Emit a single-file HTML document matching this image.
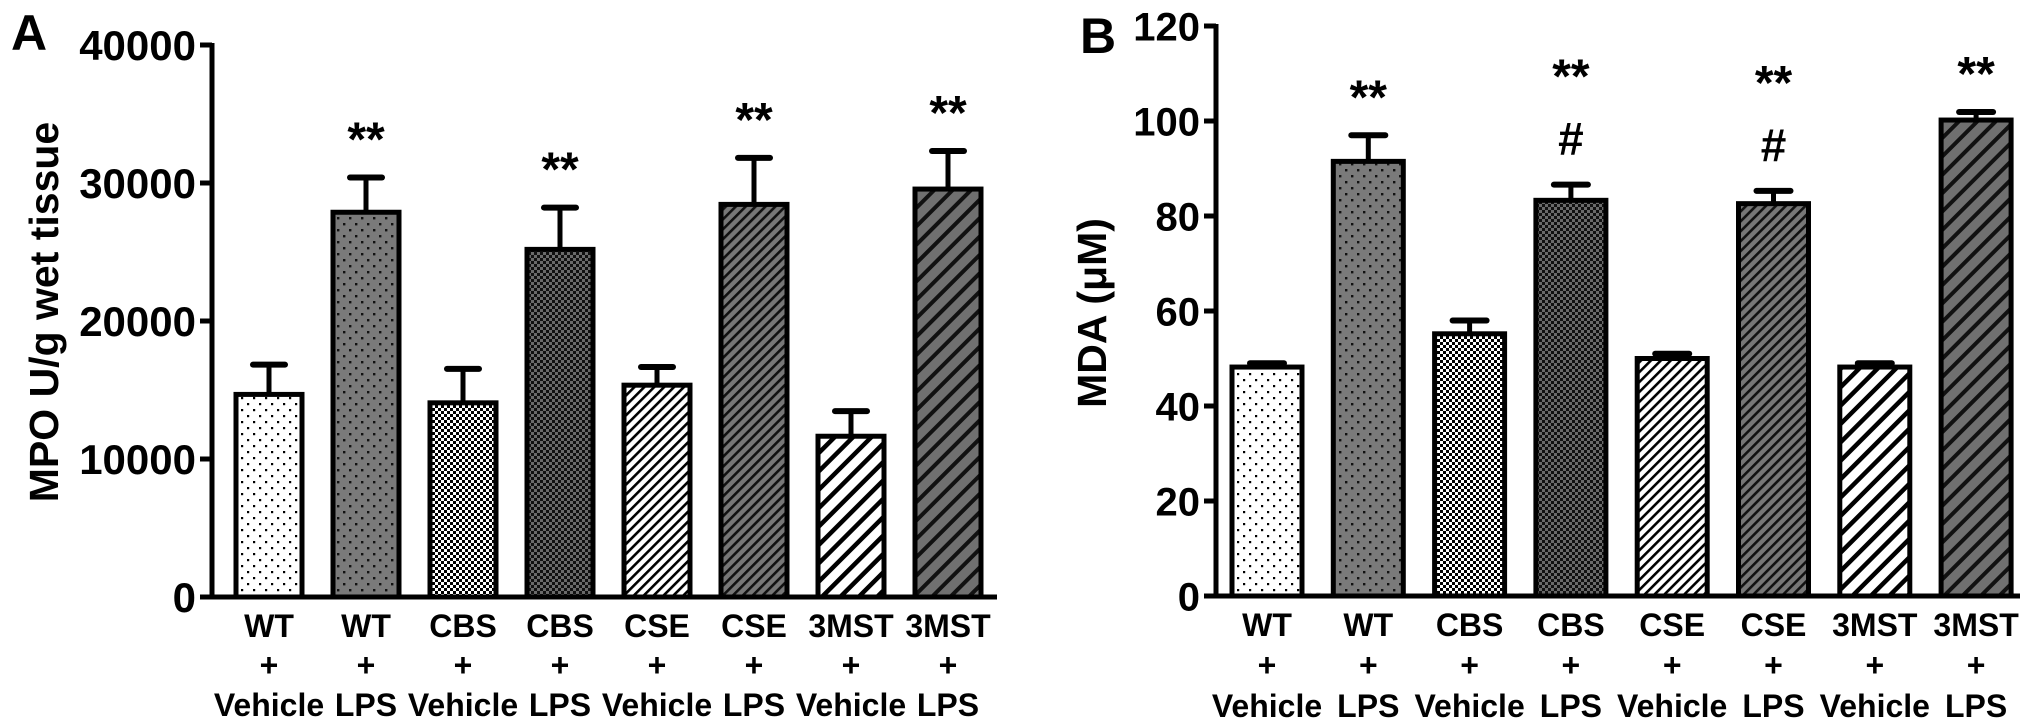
<!DOCTYPE html>
<html><head><meta charset="utf-8"><style>
html,body{margin:0;padding:0;background:#fff;}
svg{display:block;font-family:"Liberation Sans",Arial,sans-serif;font-weight:bold;}
</style></head><body>
<svg id="fig" width="2031" height="718" viewBox="0 0 2031 718">
<defs>
<pattern id="p0" width="12" height="12" patternUnits="userSpaceOnUse"><rect width="12" height="12" fill="#fff"/><rect x="1" y="1" width="2.2" height="2.2" fill="#000"/><rect x="7" y="7" width="2.2" height="2.2" fill="#000"/></pattern>
<pattern id="p1" width="12" height="12" patternUnits="userSpaceOnUse"><rect width="12" height="12" fill="#7a7a7a"/><rect x="1" y="1" width="2.4" height="2.4" fill="#111"/><rect x="7" y="7" width="2.4" height="2.4" fill="#111"/></pattern>
<pattern id="p2" width="6" height="6" patternUnits="userSpaceOnUse"><rect width="6" height="6" fill="#fff"/><rect width="3" height="3" fill="#000"/><rect x="3" y="3" width="3" height="3" fill="#000"/></pattern>
<pattern id="p3" width="6" height="6" patternUnits="userSpaceOnUse"><rect width="6" height="6" fill="#6a6a6a"/><rect width="3" height="3" fill="#111"/><rect x="3" y="3" width="3" height="3" fill="#111"/></pattern>
<pattern id="p4" width="7" height="7" patternUnits="userSpaceOnUse" patternTransform="rotate(45)"><rect width="7" height="7" fill="#fff"/><rect width="2.6" height="7" fill="#000"/></pattern>
<pattern id="p5" width="7" height="7" patternUnits="userSpaceOnUse" patternTransform="rotate(45)"><rect width="7" height="7" fill="#777"/><rect width="2.6" height="7" fill="#111"/></pattern>
<pattern id="p6" width="13" height="13" patternUnits="userSpaceOnUse" patternTransform="rotate(45)"><rect width="13" height="13" fill="#fff"/><rect width="4.5" height="13" fill="#000"/></pattern>
<pattern id="p7" width="13" height="13" patternUnits="userSpaceOnUse" patternTransform="rotate(45)"><rect width="13" height="13" fill="#707070"/><rect width="4" height="13" fill="#111"/></pattern>
</defs>
<g id="gA"></g>
<g id="gB"></g>
</svg>
<script>
const groups = ["WT","WT","CBS","CBS","CSE","CSE","3MST","3MST"];
const treatments = ["Vehicle","LPS","Vehicle","LPS","Vehicle","LPS","Vehicle","LPS"];
const mpoValues = [14680,27880,14070,25190,15350,28450,11650,29560];
const mpoErrors = [2160,2520,2460,3030,1320,3370,1820,2760];
const mpoMarks = ["","**","","**","","**","","**"];
const mpoTicks = [0,10000,20000,30000,40000];
const mdaValues = [48.2,91.5,55.2,83.3,50.0,82.6,48.2,100.2];
const mdaErrors = [0.8,5.5,2.8,3.3,1.0,2.7,0.8,1.7];
const mdaMarks = ["","**","","**","","**","","**"];
const mdaHash = ["","","","#","","#","",""];
const mdaTicks = [0,20,40,60,80,100,120];

const NS="http://www.w3.org/2000/svg";
function mk(parent,tag,attrs,text){const e=document.createElementNS(NS,tag);for(const k in attrs)e.setAttribute(k,attrs[k]);if(text!==undefined)e.textContent=text;parent.appendChild(e);return e;}

function drawPanel(cfg){
  const g=document.getElementById(cfg.id);
  const y=v=>cfg.y0-(v-cfg.min)/(cfg.max-cfg.min)*(cfg.y0-cfg.yTop);
  const xc=i=>cfg.x0+i*cfg.step;
  const L=mk(g,'text',{x:cfg.letterX,y:cfg.letterY,'font-size':50},cfg.letter);
  
  
  const t=mk(g,'text',{x:0,y:0,'font-size':cfg.titleSize,'text-anchor':'middle',transform:`translate(${cfg.titleX},${cfg.titleY}) rotate(-90)`},cfg.title);
  
  
  cfg.values.forEach((v,i)=>{
    const cx=xc(i);
    const top=y(v+cfg.errors[i]);
    const el=mk(g,'line',{x1:cx,x2:cx,y1:y(v),y2:top,stroke:'#000','stroke-width':5});
    
    
    const cap=mk(g,'line',{x1:cx-cfg.cap,x2:cx+cfg.cap,y1:top,y2:top,stroke:'#000','stroke-width':6,'stroke-linecap':'round'});
    
    
    const b=mk(g,'rect',{x:cx-cfg.bw/2,y:y(v),width:cfg.bw,height:cfg.y0-y(v),fill:`url(#p${i})`,stroke:'#000','stroke-width':5});
    
    
    const hasHash=cfg.hash&&cfg.hash[i];
    if(hasHash){
      const h=mk(g,'text',{x:cx,y:top-cfg.hashGap,'font-size':46,'text-anchor':'middle'},cfg.hash[i]);
      
      
    }
    if(cfg.marks[i]){
      const s=mk(g,'text',{x:cx,y:top-(hasHash?cfg.starGapHash:cfg.starGap),'font-size':48,'text-anchor':'middle'},cfg.marks[i]);
      
      
    }
    const l1=mk(g,'text',{x:cx,y:cfg.rowY[0],'font-size':32,'text-anchor':'middle'},groups[i]);
    
    
    const l2=mk(g,'text',{x:cx,y:cfg.rowY[1],'font-size':32,'text-anchor':'middle'},'+');
    
    
    const l3=mk(g,'text',{x:cx,y:cfg.rowY[2],'font-size':32,'text-anchor':'middle'},treatments[i]);
    
    
  });
  const ya=mk(g,'line',{x1:cfg.ax,x2:cfg.ax,y1:y(cfg.max)-2,y2:cfg.y0+2,stroke:'#000','stroke-width':5});
  
  
  const xa=mk(g,'line',{x1:cfg.ax-12,x2:cfg.xEnd,y1:cfg.y0,y2:cfg.y0,stroke:'#000','stroke-width':5});
  
  
  cfg.ticks.forEach(tv=>{
    const tk=mk(g,'line',{x1:cfg.ax-12,x2:cfg.ax,y1:y(tv),y2:y(tv),stroke:'#000','stroke-width':5});
    
    
    const tl=mk(g,'text',{x:cfg.ax-16,y:y(tv)+cfg.tickSize*0.36,'font-size':cfg.tickSize,'text-anchor':'end'},String(tv));
    
    
  });
}

drawPanel({id:'gA',letter:'A',letterX:11,letterY:50,title:'MPO U/g wet tissue',titleSize:41,titleX:58,titleY:312,
  values:mpoValues,errors:mpoErrors,marks:mpoMarks,ticks:mpoTicks,min:0,max:40000,
  y0:597,yTop:45,ax:212,xEnd:997,x0:269,step:97,bw:66,cap:16,starGap:22,tickSize:42,rowY:[637,676,716]});
drawPanel({id:'gB',letter:'B',letterX:1080,letterY:53,title:'MDA (μM)',titleSize:41,titleX:1106,titleY:313,
  values:mdaValues,errors:mdaErrors,marks:mdaMarks,hash:mdaHash,ticks:mdaTicks,min:0,max:120,
  y0:596,yTop:26,ax:1216,xEnd:2020,x0:1267,step:101.3,bw:70,cap:17,starGap:22,starGapHash:92,hashGap:30,tickSize:40,rowY:[636,676,717]});
</script>
</body></html>
